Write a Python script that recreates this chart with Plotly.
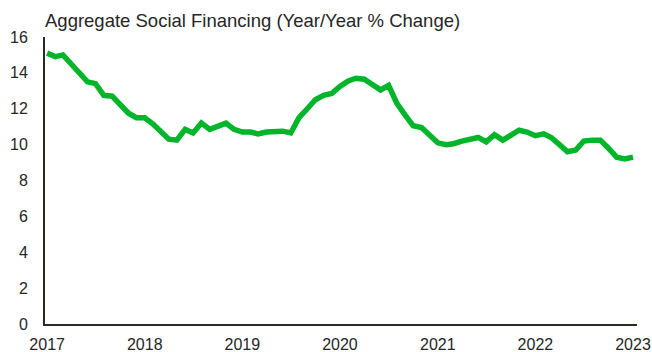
import pandas as pd
import plotly.graph_objects as go

title = "Aggregate Social Financing (Year/Year % Change)"
months = pd.date_range("2017-01-01", "2023-01-01", freq="MS")
values = [
    15.1, 14.9, 15.0, 14.5, 14.1, 13.5, 13.4, 12.75, 12.7, 12.2, 11.75, 11.5,   # 2017
    11.5, 11.15, 10.75, 10.3, 10.25, 10.85, 10.65, 11.2, 10.85, 11.05, 11.2, 10.85,  # 2018
    10.7, 10.7, 10.6, 10.7, 10.7, 10.75, 10.65, 11.5, 12.0, 12.5, 12.75, 12.85,  # 2019
    13.25, 13.55, 13.7, 13.65, 13.35, 13.05, 13.3, 12.3, 11.65, 11.05, 10.95, 10.5,  # 2020
    10.1, 10.0, 10.05, 10.2, 10.3, 10.4, 10.15, 10.55, 10.25, 10.5, 10.8, 10.7,  # 2021
    10.5, 10.6, 10.4, 10.0, 9.6, 9.7, 10.2, 10.25, 10.25, 9.8, 9.3, 9.2,  # 2022
    9.3,  # 2023
]
tick_years = ["2017", "2018", "2019", "2020", "2021", "2022", "2023"]
y_ticks = [0, 2, 4, 6, 8, 10, 12, 14, 16]

fig = go.Figure()
fig.add_trace(go.Scatter(
    x=months, y=values, mode="lines",
    line=dict(color="#00B52A", width=5.5),
    hoverinfo="skip", showlegend=False,
))

font = dict(family="Liberation Sans, Arial, sans-serif", size=16, color="#262626")
fig.update_layout(
    width=652, height=352,
    margin=dict(l=45, r=15, t=37, b=28),
    paper_bgcolor="white", plot_bgcolor="white",
    font=font,
)
fig.add_annotation(
    text=title, xref="paper", yref="paper", x=-0.004, y=1.0, yshift=17,
    xanchor="left", yanchor="middle", showarrow=False,
    font=dict(family="Liberation Sans, Arial, sans-serif", size=18.5, color="#262626"),
)
fig.update_xaxes(
    range=["2016-12-24", "2023-01-16"],
    tickvals=[f"{y}-01-01" for y in tick_years], ticktext=tick_years,
    showgrid=False, zeroline=False, showline=True, linecolor="#2a2a20", linewidth=2,
    ticks="outside", ticklen=5, tickcolor="rgba(0,0,0,0)", tickfont=font,
    automargin=False,
)
fig.update_yaxes(
    range=[0, 16], tickvals=y_ticks,
    showgrid=False, zeroline=False, showline=True, linecolor="#2a2a20", linewidth=2,
    ticks="outside", ticklen=12, tickcolor="rgba(0,0,0,0)", tickfont=font,
    automargin=False,
)
fig.write_html("out.html")
